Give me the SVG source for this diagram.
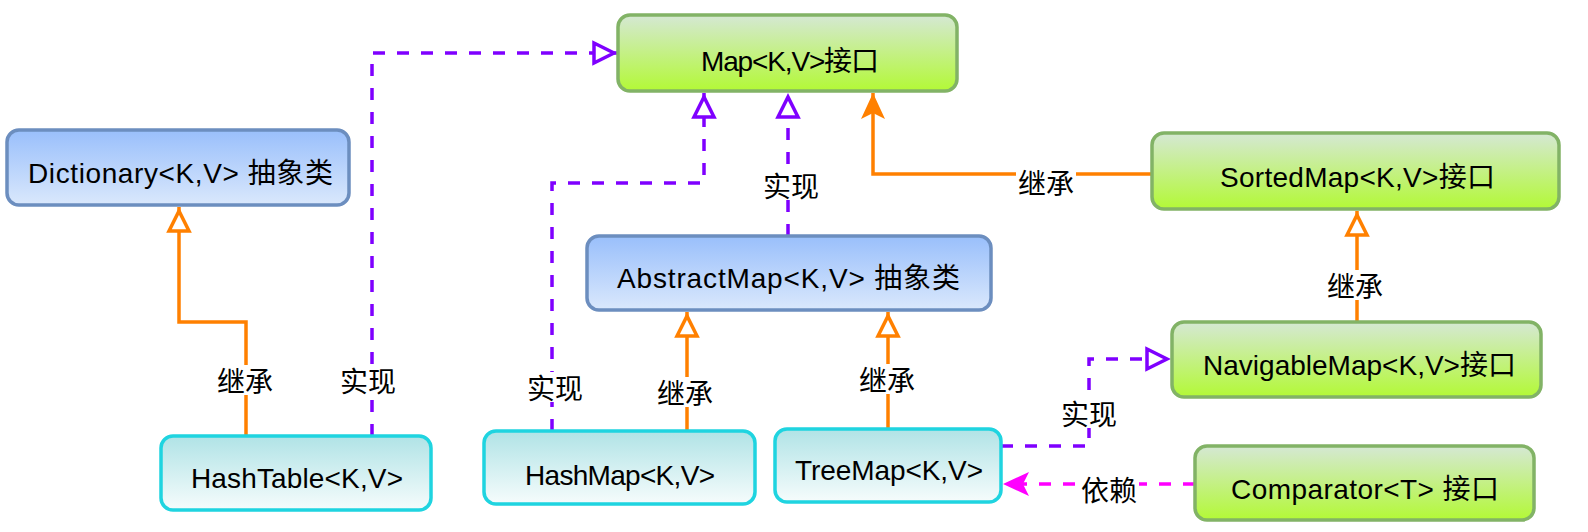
<svg xmlns="http://www.w3.org/2000/svg" width="1588" height="532" viewBox="0 0 1588 532">
<style>
.box{stroke-width:3.5}
.green{fill:url(#gGreen);stroke:#82b366}
.blue{fill:url(#gBlue);stroke:#6c8ebf}
.cyan{fill:url(#gCyan);stroke:#1fd4e0}
.nt{font-family:"Liberation Sans","Noto Sans CJK SC",sans-serif;font-size:28px;fill:#000}
.el{font-family:"Noto Sans CJK SC",sans-serif;font-size:28px;fill:#000;text-anchor:middle;dominant-baseline:central}
.lbg{fill:#fff}
.c{fill:none;stroke-width:3.5}
.pur{stroke:#7f00ff;stroke-dasharray:12 12}
.org{stroke:#ff8000}
.mag{stroke:#ff00ff;stroke-dasharray:12 12}
</style>
<defs>
<linearGradient id="gGreen" x1="0" y1="0" x2="0" y2="1"><stop offset="0" stop-color="#d5e8d4"/><stop offset="1" stop-color="#b3f936"/></linearGradient>
<linearGradient id="gBlue" x1="0" y1="0" x2="0" y2="1"><stop offset="0" stop-color="#99bffb"/><stop offset="1" stop-color="#dae8fc"/></linearGradient>
<linearGradient id="gCyan" x1="0" y1="0" x2="0" y2="1"><stop offset="0" stop-color="#b0e3e6"/><stop offset="1" stop-color="#f6fcfc"/></linearGradient>
<marker id="hPur" viewBox="0 0 34 30" refX="31" refY="15" markerWidth="34" markerHeight="30" markerUnits="userSpaceOnUse" orient="auto" overflow="visible"><path d="M7,5 L27,15 L7,25 Z" fill="#fff" stroke="#7f00ff" stroke-width="3.5" stroke-dasharray="none"/></marker>
<marker id="hOrg" viewBox="0 0 34 30" refX="31" refY="15" markerWidth="34" markerHeight="30" markerUnits="userSpaceOnUse" orient="auto" overflow="visible"><path d="M7,5 L27,15 L7,25 Z" fill="#fff" stroke="#ff8000" stroke-width="3.5" stroke-dasharray="none"/></marker>
<marker id="fOrg" viewBox="0 0 30 30" refX="28" refY="15" markerWidth="30" markerHeight="30" markerUnits="userSpaceOnUse" orient="auto" overflow="visible"><path d="M28,15 L2,3 L8,15 L2,27 Z" fill="#ff8000" stroke="none"/></marker>
<marker id="fMag" viewBox="0 0 30 30" refX="28" refY="15" markerWidth="30" markerHeight="30" markerUnits="userSpaceOnUse" orient="auto" overflow="visible"><path d="M28,15 L2,3 L8,15 L2,27 Z" fill="#ff00ff" stroke="none"/></marker>
</defs>
<rect width="1588" height="532" fill="#fff"/>

<g id="connectors">
  <path class="c pur" d="M372,436 V53 H618" marker-end="url(#hPur)"/>
  <path class="c org" d="M246,436 V322 H179 V207" marker-end="url(#hOrg)"/>
  <path class="c pur" d="M552,431 V183 H704 V93" marker-end="url(#hPur)"/>
  <path class="c org" d="M687,431 V312" marker-end="url(#hOrg)"/>
  <path class="c pur" d="M788,236 V93" marker-end="url(#hPur)"/>
  <path class="c org" d="M888,429 V312" marker-end="url(#hOrg)"/>
  <path class="c org" d="M1152,174 H873 V93" marker-end="url(#fOrg)"/>
  <path class="c org" d="M1357,322 V211" marker-end="url(#hOrg)"/>
  <path class="c pur" d="M1001,446 H1089 V359 H1171" marker-end="url(#hPur)"/>
  <path class="c mag" d="M1195,484 H1003" marker-end="url(#fMag)"/>

  <rect class="lbg" x="338" y="365" width="60" height="30"/><text class="el" x="368" y="380">实现</text>
  <rect class="lbg" x="215" y="365" width="60" height="30"/><text class="el" x="245" y="380">继承</text>
  <rect class="lbg" x="525" y="372" width="60" height="30"/><text class="el" x="555" y="387">实现</text>
  <rect class="lbg" x="655" y="377" width="60" height="30"/><text class="el" x="685" y="392">继承</text>
  <rect class="lbg" x="761" y="170" width="60" height="30"/><text class="el" x="791" y="185">实现</text>
  <rect class="lbg" x="857" y="364" width="60" height="30"/><text class="el" x="887" y="379">继承</text>
  <rect class="lbg" x="1016" y="167" width="60" height="30"/><text class="el" x="1046" y="182">继承</text>
  <rect class="lbg" x="1325" y="270" width="60" height="30"/><text class="el" x="1355" y="285">继承</text>
  <rect class="lbg" x="1059" y="398" width="60" height="30"/><text class="el" x="1089" y="413">实现</text>
  <rect class="lbg" x="1079" y="474" width="60" height="30"/><text class="el" x="1109" y="489">依赖</text>
</g>

<g id="map"><rect class="box green" x="618" y="15" width="339" height="76" rx="12"/><text class="nt" x="701" y="71" textLength="178" lengthAdjust="spacing">Map&lt;K,V&gt;接口</text></g>
<g id="dictionary"><rect class="box blue" x="7" y="130" width="342" height="75" rx="12"/><text class="nt" x="28" y="183" textLength="305" lengthAdjust="spacing">Dictionary&lt;K,V&gt; 抽象类</text></g>
<g id="hashtable"><rect class="box cyan" x="161" y="436" width="270" height="74" rx="12"/><text class="nt" x="191" y="488" textLength="212" lengthAdjust="spacing">HashTable&lt;K,V&gt;</text></g>
<g id="abstractmap"><rect class="box blue" x="587" y="236" width="404" height="74" rx="12"/><text class="nt" x="617" y="288" textLength="343" lengthAdjust="spacing">AbstractMap&lt;K,V&gt; 抽象类</text></g>
<g id="sortedmap"><rect class="box green" x="1152" y="133" width="407" height="76" rx="12"/><text class="nt" x="1220" y="187" textLength="275" lengthAdjust="spacing">SortedMap&lt;K,V&gt;接口</text></g>
<g id="navigablemap"><rect class="box green" x="1172" y="322" width="369" height="75" rx="12"/><text class="nt" x="1203" y="375" textLength="313" lengthAdjust="spacing">NavigableMap&lt;K,V&gt;接口</text></g>
<g id="comparator"><rect class="box green" x="1195" y="446" width="339" height="74" rx="12"/><text class="nt" x="1231" y="499" textLength="268" lengthAdjust="spacing">Comparator&lt;T&gt; 接口</text></g>
<g id="treemap"><rect class="box cyan" x="775" y="429" width="226" height="73" rx="12"/><text class="nt" x="795" y="480" textLength="188" lengthAdjust="spacing">TreeMap&lt;K,V&gt;</text></g>
<g id="hashmap"><rect class="box cyan" x="484" y="431" width="271" height="73" rx="12"/><text class="nt" x="525" y="485" textLength="190" lengthAdjust="spacing">HashMap&lt;K,V&gt;</text></g>
</svg>
